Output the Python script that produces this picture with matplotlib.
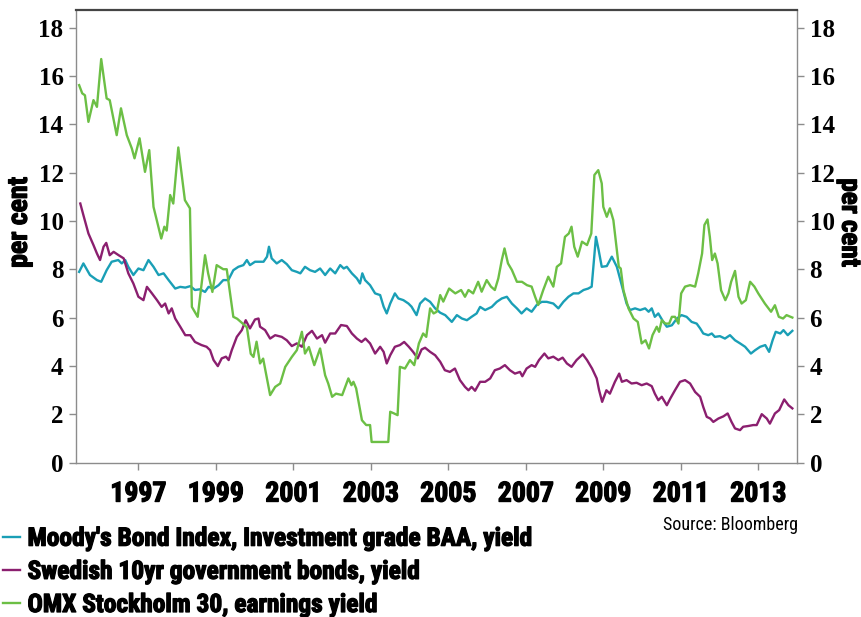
import matplotlib
matplotlib.use("Agg")
import matplotlib.pyplot as plt
from matplotlib import font_manager as fm
from matplotlib import patheffects as pe

# ---------------- data ----------------
baa_years = [1995.47, 1995.58, 1995.75, 1995.93, 1996.04, 1996.18, 1996.31, 1996.48, 1996.57, 1996.66,
             1996.74, 1996.87, 1997.00, 1997.13, 1997.26, 1997.39, 1997.52, 1997.65, 1997.78, 1997.95,
             1998.08, 1998.21, 1998.34, 1998.46, 1998.59, 1998.72, 1998.81, 1998.94, 1999.07, 1999.19,
             1999.32, 1999.45, 1999.58, 1999.71, 1999.80, 1999.88, 2000.01, 2000.14, 2000.23, 2000.32,
             2000.37, 2000.44, 2000.57, 2000.70, 2000.83, 2000.96, 2001.09, 2001.18, 2001.30, 2001.43,
             2001.56, 2001.69, 2001.82, 2001.95, 2002.08, 2002.21, 2002.30, 2002.38, 2002.51, 2002.64,
             2002.72, 2002.78, 2002.85, 2002.98, 2003.11, 2003.24, 2003.33, 2003.41, 2003.50, 2003.62,
             2003.71, 2003.84, 2003.97, 2004.05, 2004.18, 2004.27, 2004.40, 2004.53, 2004.66, 2004.79,
             2004.92, 2005.09, 2005.22, 2005.35, 2005.48, 2005.60, 2005.73, 2005.82, 2005.95, 2006.12,
             2006.25, 2006.38, 2006.51, 2006.64, 2006.77, 2006.89, 2007.02, 2007.15, 2007.28, 2007.41,
             2007.54, 2007.71, 2007.84, 2007.97, 2008.10, 2008.23, 2008.36, 2008.49, 2008.61, 2008.70,
             2008.81, 2008.88, 2008.96, 2009.09, 2009.22, 2009.35, 2009.43, 2009.52, 2009.60, 2009.69,
             2009.82, 2009.95, 2010.08, 2010.17, 2010.25, 2010.33, 2010.42, 2010.55, 2010.64, 2010.77,
             2010.90, 2011.02, 2011.15, 2011.28, 2011.41, 2011.50, 2011.58, 2011.71, 2011.80, 2011.88,
             2012.01, 2012.14, 2012.27, 2012.40, 2012.53, 2012.66, 2012.81, 2012.92, 2013.05, 2013.18,
             2013.28, 2013.37, 2013.45, 2013.57, 2013.65, 2013.76, 2013.88]
baa_values = [7.89, 8.24, 7.76, 7.55, 7.48, 7.96, 8.31, 8.38, 8.24, 8.38,
              8.10, 7.76, 8.03, 7.96, 8.38, 8.10, 7.76, 7.83, 7.55, 7.20,
              7.27, 7.24, 7.30, 7.14, 7.17, 7.06, 7.27, 7.20, 7.34, 7.55,
              7.55, 7.96, 8.10, 8.17, 8.38, 8.17, 8.31, 8.31, 8.31, 8.52,
              8.93, 8.45, 8.24, 8.38, 8.21, 7.96, 7.89, 7.83, 8.10, 7.96,
              7.89, 8.03, 7.76, 8.03, 7.83, 8.17, 8.03, 8.10, 7.83, 7.62,
              7.41, 7.83, 7.55, 7.34, 7.00, 6.93, 6.45, 6.17, 6.58, 7.00,
              6.79, 6.72, 6.58, 6.45, 6.10, 6.58, 6.79, 6.65, 6.38, 6.20,
              6.10, 5.82, 6.10, 5.96, 5.89, 6.03, 6.17, 6.44, 6.31, 6.44,
              6.65, 6.79, 6.86, 6.58, 6.38, 6.17, 6.38, 6.24, 6.52, 6.65,
              6.65, 6.58, 6.38, 6.65, 6.86, 7.00, 7.00, 7.14, 7.20, 7.28,
              9.34, 8.79, 8.10, 8.13, 8.52, 8.10, 7.62, 7.06, 6.58, 6.31,
              6.38, 6.31, 6.38, 6.24, 6.38, 6.03, 6.17, 5.82, 5.62, 5.68,
              5.96, 6.10, 6.03, 5.82, 5.75, 5.55, 5.34, 5.27, 5.34, 5.20,
              5.23, 5.13, 5.27, 5.06, 4.93, 4.79, 4.51, 4.65, 4.79, 4.86,
              4.58, 5.06, 5.41, 5.34, 5.48, 5.27, 5.45]

swe_years = [1995.50, 1995.58, 1995.71, 1995.84, 1995.93, 1996.01, 1996.10, 1996.17, 1996.26, 1996.36,
             1996.49, 1996.62, 1996.74, 1996.87, 1997.00, 1997.13, 1997.22, 1997.35, 1997.48, 1997.60,
             1997.69, 1997.78, 1997.86, 1997.95, 1998.08, 1998.21, 1998.34, 1998.46, 1998.63, 1998.76,
             1998.85, 1998.94, 1999.05, 1999.15, 1999.26, 1999.33, 1999.41, 1999.54, 1999.67, 1999.77,
             1999.88, 2000.01, 2000.10, 2000.14, 2000.27, 2000.40, 2000.53, 2000.70, 2000.83, 2000.96,
             2001.09, 2001.22, 2001.35, 2001.48, 2001.61, 2001.74, 2001.82, 2001.95, 2002.08, 2002.23,
             2002.38, 2002.51, 2002.64, 2002.76, 2002.86, 2002.98, 2003.11, 2003.24, 2003.33, 2003.41,
             2003.50, 2003.62, 2003.75, 2003.86, 2003.98, 2004.09, 2004.21, 2004.31, 2004.40, 2004.53,
             2004.66, 2004.79, 2004.91, 2005.04, 2005.17, 2005.30, 2005.43, 2005.52, 2005.60, 2005.69,
             2005.82, 2005.95, 2006.08, 2006.20, 2006.33, 2006.46, 2006.59, 2006.72, 2006.85, 2006.91,
             2007.02, 2007.15, 2007.24, 2007.34, 2007.48, 2007.58, 2007.71, 2007.84, 2007.95, 2008.06,
             2008.18, 2008.31, 2008.47, 2008.58, 2008.71, 2008.83, 2008.89, 2008.97, 2009.08, 2009.17,
             2009.30, 2009.41, 2009.48, 2009.60, 2009.73, 2009.86, 2009.99, 2010.12, 2010.25, 2010.33,
             2010.42, 2010.51, 2010.64, 2010.73, 2010.85, 2010.98, 2011.11, 2011.24, 2011.37, 2011.50,
             2011.58, 2011.67, 2011.76, 2011.84, 2011.97, 2012.10, 2012.21, 2012.31, 2012.40, 2012.53,
             2012.61, 2012.74, 2012.87, 2012.96, 2013.09, 2013.22, 2013.30, 2013.43, 2013.54, 2013.67,
             2013.78, 2013.88]
swe_values = [10.72, 10.24, 9.48, 9.00, 8.65, 8.38, 8.93, 9.09, 8.58, 8.72,
              8.58, 8.45, 7.83, 7.41, 6.86, 6.72, 7.27, 7.00, 6.72, 6.44,
              6.58, 6.17, 6.38, 5.96, 5.62, 5.27, 5.27, 4.99, 4.86, 4.79,
              4.65, 4.24, 3.99, 4.31, 4.38, 4.24, 4.65, 5.20, 5.48, 5.89,
              5.55, 5.92, 5.96, 5.62, 5.48, 5.13, 5.27, 5.20, 5.06, 4.82,
              4.93, 4.79, 5.27, 5.45, 5.13, 5.27, 4.96, 5.34, 5.34, 5.69,
              5.65, 5.34, 5.13, 4.99, 5.13, 4.93, 4.51, 4.79, 4.58, 4.10,
              4.44, 4.79, 4.86, 4.99, 4.79, 4.58, 4.31, 4.68, 4.75, 4.58,
              4.44, 4.17, 3.82, 3.75, 3.89, 3.41, 3.13, 2.99, 3.13, 2.97,
              3.34, 3.34, 3.48, 3.82, 3.89, 4.03, 3.82, 3.68, 3.75, 3.57,
              3.89, 4.03, 3.96, 4.24, 4.51, 4.31, 4.38, 4.24, 4.34, 4.10,
              3.96, 4.24, 4.48, 4.24, 3.89, 3.48, 3.00, 2.51, 2.99, 2.85,
              3.34, 3.68, 3.34, 3.41, 3.27, 3.30, 3.20, 3.27, 3.16, 2.85,
              2.58, 2.72, 2.37, 2.65, 2.99, 3.34, 3.41, 3.27, 2.92, 2.72,
              2.30, 1.89, 1.82, 1.68, 1.82, 1.91, 2.03, 1.68, 1.41, 1.34,
              1.48, 1.51, 1.55, 1.55, 2.00, 1.82, 1.61, 2.03, 2.17, 2.61,
              2.37, 2.24]

omx_years = [1995.47, 1995.55, 1995.62, 1995.71, 1995.84, 1995.93, 1996.04, 1996.18, 1996.26, 1996.44,
             1996.55, 1996.70, 1996.83, 1996.90, 1997.03, 1997.17, 1997.28, 1997.39, 1997.59, 1997.67,
             1997.73, 1997.82, 1997.90, 1998.03, 1998.20, 1998.33, 1998.38, 1998.53, 1998.72, 1998.80,
             1998.91, 1999.02, 1999.19, 1999.28, 1999.45, 1999.55, 1999.80, 1999.90, 1999.97, 2000.05,
             2000.14, 2000.22, 2000.40, 2000.53, 2000.66, 2000.79, 2000.96, 2001.09, 2001.22, 2001.30,
             2001.40, 2001.54, 2001.69, 2001.82, 2001.90, 2002.00, 2002.10, 2002.26, 2002.42, 2002.50,
             2002.55, 2002.62, 2002.77, 2002.88, 2002.98, 2003.02, 2003.45, 2003.50, 2003.60, 2003.69,
             2003.75, 2003.88, 2004.01, 2004.12, 2004.24, 2004.35, 2004.43, 2004.53, 2004.62, 2004.70,
             2004.79, 2004.87, 2005.02, 2005.18, 2005.33, 2005.43, 2005.52, 2005.64, 2005.77, 2005.86,
             2005.99, 2006.10, 2006.20, 2006.29, 2006.38, 2006.45, 2006.54, 2006.64, 2006.77, 2006.90,
             2007.03, 2007.15, 2007.24, 2007.32, 2007.45, 2007.58, 2007.71, 2007.80, 2007.91, 2008.01,
             2008.11, 2008.18, 2008.25, 2008.34, 2008.45, 2008.58, 2008.69, 2008.77, 2008.87, 2008.96,
             2009.00, 2009.09, 2009.17, 2009.26, 2009.34, 2009.40, 2009.45, 2009.52, 2009.65, 2009.78,
             2009.89, 2009.99, 2010.09, 2010.18, 2010.27, 2010.38, 2010.44, 2010.51, 2010.60, 2010.70,
             2010.77, 2010.85, 2010.94, 2011.01, 2011.11, 2011.24, 2011.37, 2011.45, 2011.55, 2011.61,
             2011.69, 2011.75, 2011.81, 2011.88, 2011.95, 2012.04, 2012.15, 2012.23, 2012.30, 2012.40,
             2012.49, 2012.57, 2012.68, 2012.79, 2012.90, 2013.00, 2013.17, 2013.33, 2013.43, 2013.53,
             2013.64, 2013.73, 2013.88]
omx_values = [15.62, 15.28, 15.20, 14.10, 15.00, 14.72, 16.70, 15.07, 15.00, 13.55,
              14.66, 13.55, 13.00, 12.59, 13.42, 12.03, 12.93, 10.58, 9.27, 9.76,
              9.60, 11.07, 10.72, 13.04, 10.86, 10.52, 6.44, 6.03, 8.58, 7.83,
              7.06, 8.17, 8.00, 8.00, 6.03, 5.95, 5.60, 4.50, 4.37, 5.00,
              4.10, 4.30, 2.79, 3.13, 3.27, 3.96, 4.37, 4.65, 5.41, 4.51,
              4.78, 4.03, 4.72, 3.61, 3.27, 2.72, 2.85, 2.79, 3.48, 3.20,
              3.34, 3.07, 1.75, 1.55, 1.55, 0.85, 0.85, 2.10, 2.03, 1.96,
              3.96, 3.89, 4.24, 4.03, 4.93, 5.34, 5.20, 6.38, 6.17, 6.24,
              6.93, 6.66, 7.20, 7.00, 7.14, 6.86, 7.14, 7.00, 7.48, 7.07,
              7.55, 7.28, 7.14, 7.62, 8.38, 8.86, 8.24, 7.97, 7.48, 7.48,
              7.34, 7.28, 6.86, 6.52, 7.14, 7.69, 7.28, 8.10, 8.24, 9.34,
              9.48, 9.76, 8.93, 8.52, 9.14, 9.00, 9.48, 11.90, 12.10, 11.55,
              10.58, 10.17, 10.52, 10.03, 8.93, 8.10, 8.03, 7.13, 6.38, 5.96,
              5.82, 4.93, 5.06, 4.72, 5.27, 5.62, 5.41, 5.89, 5.75, 5.75,
              6.03, 6.03, 5.75, 7.00, 7.28, 7.34, 7.28, 7.83, 8.65, 9.83,
              10.06, 9.34, 8.38, 8.65, 8.24, 7.13, 6.72, 7.00, 7.48, 7.93,
              6.86, 6.58, 6.72, 7.48, 7.28, 7.00, 6.58, 6.24, 6.51, 6.03,
              5.96, 6.10, 6.00]

series_labels = ["Moody's Bond Index, Investment grade BAA, yield",
                 "Swedish 10yr government bonds, yield",
                 "OMX Stockholm 30, earnings yield"]
x_ticks = [1997, 1999, 2001, 2003, 2005, 2007, 2009, 2011, 2013]
y_ticks = [0, 2, 4, 6, 8, 10, 12, 14, 16, 18]
source_text = "Source: Bloomberg"
axis_label = "per cent"

# ---------------- style ----------------
installed = {f.name for f in fm.fontManager.ttflist}
narrow = "DejaVu Sans"
for cand in ["Roboto Condensed", "Archivo Narrow", "PT Sans Narrow", "Barlow Condensed",
             "Liberation Sans Narrow", "Arimo", "Liberation Sans"]:
    if cand in installed:
        narrow = cand
        break
cond = [narrow, "DejaVu Sans"]
serif = ["Liberation Serif", "DejaVu Serif"]
thick = [pe.withStroke(linewidth=0.9, foreground="black")]

c_baa = "#1a9fb6"
c_swe = "#8b1f6f"
c_omx = "#6cbf45"
spine_grey = "#8c8c8c"

fig = plt.figure(figsize=(8.62, 6.17), dpi=100)
ax = fig.add_axes([0.0882, 0.2504, 0.8364, 0.7334])

lw = 1.7
ax.plot(baa_years, baa_values, color=c_baa, lw=lw, label=series_labels[0], solid_joinstyle="round")
ax.plot(swe_years, swe_values, color=c_swe, lw=lw, label=series_labels[1], solid_joinstyle="round")
ax.plot(omx_years, omx_values, color=c_omx, lw=lw, label=series_labels[2], solid_joinstyle="round")

ax.set_xlim(1995.39, 2014.0)
ax.set_ylim(0, 18.73)
ax.set_xticks(x_ticks)
ax.set_xticklabels([str(t) for t in x_ticks], family=cond, fontweight="bold", fontsize=20)
for t in ax.get_xticklabels():
    t.set_path_effects(thick)
ax.set_yticks(y_ticks)
ax.set_yticklabels([str(t) for t in y_ticks], family=serif, fontweight="bold", fontsize=18)
ax.tick_params(axis="x", direction="out", length=5, width=1, color=spine_grey, pad=8)
ax.tick_params(axis="y", direction="out", length=5, width=1, color=spine_grey, pad=4)

for s in ["left", "right", "bottom"]:
    ax.spines[s].set_color(spine_grey)
    ax.spines[s].set_linewidth(1.0)
ax.spines["top"].set_color("#444444")
ax.spines["top"].set_linewidth(1.6)

ax2 = ax.twinx()
ax2.set_ylim(ax.get_ylim())
ax2.set_yticks(y_ticks)
ax2.set_yticklabels([str(t) for t in y_ticks], family=serif, fontweight="bold", fontsize=18)
ax2.tick_params(axis="y", direction="out", length=5, width=1, color=spine_grey, pad=4)
for s in ax2.spines.values():
    s.set_visible(False)

ylab = ax.set_ylabel(axis_label, family=cond, fontweight="bold", fontsize=20)
ylab.set_path_effects(thick)
ax.yaxis.set_label_coords(-0.060, 0.53)
ylab2 = ax2.set_ylabel(axis_label, family=cond, fontweight="bold", fontsize=19.5, rotation=270, va="bottom")
ylab2.set_path_effects(thick)
ax2.yaxis.set_label_coords(1.0545, 0.53)

handles, labels = ax.get_legend_handles_labels()
leg = fig.legend(handles, labels, loc="lower left", bbox_to_anchor=(0.003, 0.0),
                 frameon=False, handlelength=0.7, handletextpad=0.28, labelspacing=0.36,
                 borderpad=0.0, borderaxespad=0.0,
                 prop={"family": cond, "weight": "bold", "size": 18.3})
for t in leg.get_texts():
    t.set_path_effects(thick)

fig.text(0.926, 0.149, source_text, ha="right", va="center", family=cond, fontsize=13)

fig.savefig("out.png", dpi=100)
